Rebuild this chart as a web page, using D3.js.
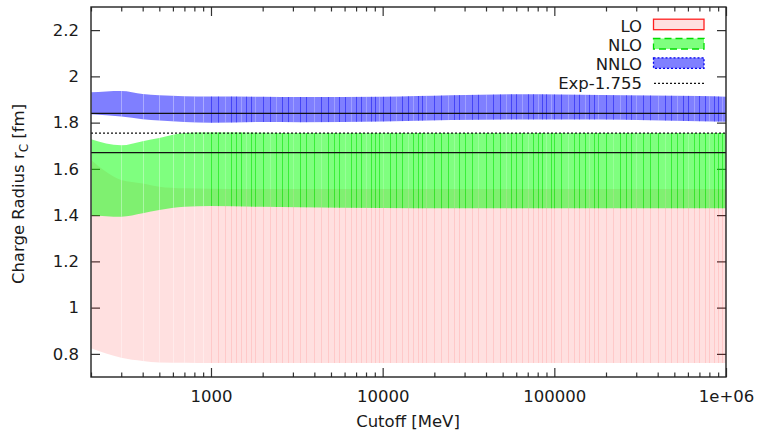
<!DOCTYPE html>
<meta charset="utf-8">
<body>
<script src="https://cdn.jsdelivr.net/npm/d3@7"></script>
<style>
    html, body {
        margin: 0;
        background: #fff;
    }
    text {
        font-family: "DejaVu Sans", sans-serif;
        font-size: 16.5px;
        fill: #1a1a1a;
    }
</style>
<script>
var bandX = [200, 300, 400, 500, 700, 1000, 2000, 3300, 10000, 25000, 63000, 108000, 185000, 360000, 700000, 1000000];

var loLow   = [0.824, 0.783, 0.769, 0.763, 0.762, 0.761, 0.761, 0.761, 0.761, 0.761, 0.761, 0.761, 0.761, 0.761, 0.761, 0.761];
var loHigh  = [1.638, 1.552, 1.537, 1.523, 1.516, 1.514, 1.513, 1.513, 1.513, 1.513, 1.513, 1.513, 1.513, 1.513, 1.513, 1.513];
var nloLow  = [1.400, 1.393, 1.408, 1.422, 1.436, 1.440, 1.436, 1.434, 1.431, 1.430, 1.430, 1.430, 1.430, 1.430, 1.430, 1.430];
var nloHigh = [1.728, 1.702, 1.720, 1.734, 1.755, 1.757, 1.756, 1.755, 1.755, 1.755, 1.755, 1.755, 1.755, 1.755, 1.755, 1.755];
var nnloLow  = [1.836, 1.826, 1.815, 1.809, 1.803, 1.800, 1.803, 1.802, 1.805, 1.811, 1.814, 1.814, 1.813, 1.810, 1.806, 1.804];
var nnloHigh = [1.931, 1.937, 1.924, 1.918, 1.914, 1.913, 1.912, 1.911, 1.912, 1.918, 1.923, 1.922, 1.919, 1.917, 1.915, 1.912];

// horizontal reference lines
var centralLines = [1.84, 1.67];
var expValue = 1.755;

// sample cutoffs (the faint seams in the filled bands)
var samples = [200, 300, 400, 500, 600, 700, 800, 900,
    1000, 1100, 1200, 1300, 1400, 1500, 1600, 1700, 1800, 2000, 2200, 2400, 2600, 2800, 3000, 3300, 3600, 4000, 4400, 4800, 5200, 5600, 6000, 6500, 7000, 7500, 8000, 8500, 9000, 9500,
    10000, 11000, 12000, 13000, 14000, 15000, 16000, 17000, 18000, 20000, 22000, 24000, 26000, 28000, 30000, 33000, 36000, 40000, 44000, 48000, 52000, 56000, 60000, 65000, 70000, 75000, 80000, 85000, 90000, 95000,
    100000, 110000, 120000, 130000, 140000, 150000, 160000, 170000, 180000, 200000, 220000, 240000, 260000, 280000, 300000, 330000, 360000, 400000, 440000, 480000, 520000, 560000, 600000, 650000, 700000, 750000, 800000, 850000, 900000, 950000, 1000000];

var yTicks = [0.8, 1, 1.2, 1.4, 1.6, 1.8, 2, 2.2];
var xTicks = [1000, 10000, 100000, 1000000];
var xTickLabels = ["1000", "10000", "100000", "1e+06"];
var xMinor = [];
[100, 1000, 10000, 100000].forEach(function(d) {
    for (var k = 2; k <= 9; k++) if (d * k >= 200 && d * k < 1e6) xMinor.push(d * k);
});

var width = 758,
    height = 434,
    pLeft = 91,
    pRight = 726,
    pTop = 7,
    pBottom = 377;

var x = d3.scaleLog().domain([200, 1e6]).range([pLeft, pRight]);
var y = d3.scaleLinear().domain([0.7, 2.3]).range([pBottom, pTop]);

var svg = d3.select("body").append("svg")
    .attr("width", width)
    .attr("height", height);

var tickColor = "#333";

// ticks first, the bands are drawn over them
svg.append("g")
    .attr("transform", "translate(0," + pBottom + ")")
    .call(d3.axisBottom(x).tickValues(xTicks).tickSize(-9).tickPadding(13)
        .tickFormat(function(d, i) { return xTickLabels[i]; }));
svg.append("g")
    .attr("transform", "translate(0," + pBottom + ")")
    .call(d3.axisBottom(x).tickValues(xMinor).tickSize(-4.5).tickFormat(""));
svg.append("g")
    .attr("transform", "translate(0," + pTop + ")")
    .call(d3.axisTop(x).tickValues(xTicks).tickSize(-9).tickFormat(""));
svg.append("g")
    .attr("transform", "translate(0," + pTop + ")")
    .call(d3.axisTop(x).tickValues(xMinor).tickSize(-4.5).tickFormat(""));
svg.append("g")
    .attr("transform", "translate(" + pLeft + ",0)")
    .call(d3.axisLeft(y).tickValues(yTicks).tickSize(-9).tickPadding(12)
        .tickFormat(function(d) { return String(d); }));
svg.append("g")
    .attr("transform", "translate(" + pRight + ",0)")
    .call(d3.axisRight(y).tickValues(yTicks).tickSize(-9).tickFormat(""));

svg.selectAll(".domain").remove();
svg.selectAll(".tick line").attr("stroke", tickColor).attr("stroke-width", 1.2);
svg.selectAll(".tick text").attr("fill", "#1a1a1a")
    .style("font-family", "'DejaVu Sans', sans-serif").style("font-size", "16.5px");

// bands
var bands = [
    {name: "lo", low: loLow, high: loHigh, fill: "rgba(255,0,0,0.12)", seamDark: "rgba(255,0,0,0.10)"},
    {name: "nlo", low: nloLow, high: nloHigh, fill: "rgba(0,255,0,0.5)", seamDark: "rgba(0,225,0,0.55)"},
    {name: "nnlo", low: nnloLow, high: nnloHigh, fill: "rgba(0,0,255,0.5)", seamDark: "rgba(0,0,235,0.45)"}
];

var area = function(b) {
    return d3.area()
        .x(function(d, i) { return x(bandX[i]); })
        .y0(function(d, i) { return y(b.low[i]); })
        .y1(function(d, i) { return y(b.high[i]); })
        .curve(d3.curveMonotoneX)(bandX);
};

var defs = svg.append("defs");

bands.forEach(function(b) {
    defs.append("clipPath").attr("id", "clip-" + b.name)
        .append("path").attr("d", area(b));

    svg.append("path")
        .attr("d", area(b))
        .attr("fill", b.fill);

    svg.append("g")
        .attr("clip-path", "url(#clip-" + b.name + ")")
        .selectAll("line")
        .data(samples)
        .enter().append("line")
        .attr("x1", function(d) { return Math.round(x(d)) + 0.5; })
        .attr("x2", function(d) { return Math.round(x(d)) + 0.5; })
        .attr("y1", pTop)
        .attr("y2", pBottom)
        .attr("stroke", function(d, i) {
            if (d < 1000) return "rgba(255,255,255,0.35)";
            if (b.name == "nnlo" && i % 3 == 1) return "rgba(255,255,255,0.25)";
            if (b.name == "nlo" && i % 4 == 2) return "rgba(255,255,255,0.2)";
            return b.seamDark;
        })
        .attr("stroke-width", 1);
});

// central lines and experiment
svg.selectAll(".central")
    .data(centralLines)
    .enter().append("line")
    .attr("x1", pLeft).attr("x2", pRight)
    .attr("y1", function(d) { return y(d); })
    .attr("y2", function(d) { return y(d); })
    .attr("stroke", "#111")
    .attr("stroke-width", 1.3);

svg.append("line")
    .attr("x1", pLeft).attr("x2", pRight)
    .attr("y1", y(expValue)).attr("y2", y(expValue))
    .attr("stroke", "#111")
    .attr("stroke-width", 1.3)
    .attr("stroke-dasharray", "2,2");

// border
svg.append("rect")
    .attr("x", pLeft).attr("y", pTop)
    .attr("width", pRight - pLeft).attr("height", pBottom - pTop)
    .attr("fill", "none")
    .attr("stroke", "#222")
    .attr("stroke-width", 1.4);

// legend
var legend = [
    {label: "LO", fill: "rgba(255,0,0,0.12)", stroke: "#ff2020", dash: null},
    {label: "NLO", fill: "rgba(0,255,0,0.5)", stroke: "#00dd00", dash: "7,4"},
    {label: "NNLO", fill: "rgba(0,0,255,0.5)", stroke: "#0000ee", dash: "2,2"},
    {label: "Exp-1.755", fill: null, stroke: "#111", dash: "2,2"}
];

var lg = svg.append("g").selectAll("g")
    .data(legend)
    .enter().append("g")
    .attr("transform", function(d, i) { return "translate(0," + (31.5 + i * 19.3) + ")"; });

lg.append("text")
    .attr("x", 642)
    .attr("text-anchor", "end")
    .text(function(d) { return d.label; });

lg.filter(function(d) { return d.fill; }).append("rect")
    .attr("x", 653.5).attr("y", -12.3)
    .attr("width", 50.5).attr("height", 10.5)
    .attr("fill", function(d) { return d.fill; })
    .attr("stroke", function(d) { return d.stroke; })
    .attr("stroke-width", 1.3)
    .attr("stroke-dasharray", function(d) { return d.dash; });

lg.filter(function(d) { return !d.fill; }).append("line")
    .attr("x1", 654).attr("x2", 704)
    .attr("y1", -6).attr("y2", -6)
    .attr("stroke", function(d) { return d.stroke; })
    .attr("stroke-width", 1.2)
    .attr("stroke-dasharray", function(d) { return d.dash; });

// axis titles
var ylab = svg.append("text")
    .attr("transform", "translate(24,194)rotate(-90)")
    .attr("text-anchor", "middle");
ylab.append("tspan").text("Charge Radius r");
ylab.append("tspan").attr("dy", 4).style("font-size", "12px").text("C");
ylab.append("tspan").attr("dy", -4).text(" [fm]");

svg.append("text")
    .attr("x", 408).attr("y", 427)
    .attr("text-anchor", "middle")
    .text("Cutoff [MeV]");
</script>
